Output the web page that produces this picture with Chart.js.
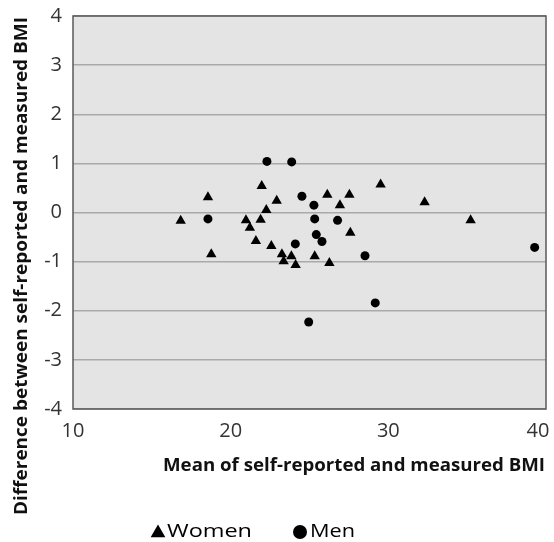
<!DOCTYPE html>
<html>
<head>
<meta charset="utf-8">
<script src="https://cdn.jsdelivr.net/npm/chart.js@4"></script>
<style>
  html, body { margin: 0; padding: 0; background: #fff; }
</style>
</head>
<body>
<canvas id="chart" width="554" height="542"></canvas>
<script>
const womenX = [18.56, 21.97, 22.92, 22.26, 16.83, 20.97, 21.90, 21.22, 21.60, 22.58, 18.77, 23.25,
                23.36, 29.51, 26.13, 27.53, 26.93, 27.59, 23.85, 24.12, 25.33, 26.26, 32.30, 35.22];
const womenY = [0.31, 0.54, 0.24, 0.05, -0.17, -0.16, -0.15, -0.31, -0.58, -0.68, -0.85, -0.85,
                -0.99, 0.57, 0.36, 0.36, 0.15, -0.41, -0.89, -1.07, -0.89, -1.03, 0.21, -0.16];
const menX = [22.30, 23.87, 18.56, 24.52, 25.28, 25.33, 26.78, 25.43, 25.79, 24.10, 28.52, 29.17, 24.95, 39.28];
const menY = [1.04, 1.03, -0.13, 0.33, 0.15, -0.13, -0.16, -0.45, -0.59, -0.64, -0.88, -1.84, -2.23, -0.71];

const xTicks = [10, 20, 30, 40];
const yTicks = [-4, -3, -2, -1, 0, 1, 2, 3, 4];
const seriesNames = ['Women', 'Men'];
const xTitle = 'Mean of self-reported and measured BMI';
const yTitle = 'Difference between self-reported and measured BMI';

const FONT = '"Open Sans", Lato, sans-serif';

const toPoints = (xs, ys) => xs.map((x, i) => ({ x: x, y: ys[i] }));

function triangle(ctx, x, y, r) {
  ctx.beginPath();
  let rad = 0;
  for (let i = 0; i < 3; i++) {
    const px = x + Math.sin(rad) * r, py = y - Math.cos(rad) * r;
    if (i === 0) ctx.moveTo(px, py); else ctx.lineTo(px, py);
    rad += 2 * Math.PI / 3;
  }
  ctx.closePath();
  ctx.fill();
}

// texte étiré horizontalement pour tenir dans une largeur donnée
function fitText(ctx, txt, x, y, width) {
  const w = ctx.measureText(txt).width;
  ctx.save();
  ctx.translate(x, y);
  ctx.scale(width / w, 1);
  ctx.fillText(txt, 0, 0);
  ctx.restore();
}

// Fond gris, cadre, titres des axes et légende
const decor = {
  id: 'decor',
  beforeDraw(chart) {
    const { ctx, chartArea: a } = chart;
    // dernier libellé de l'axe x décalé pour rester dans le canvas
    const items = chart.scales.x.getLabelItems();
    if (items.length) items[items.length - 1].options.translation[0] -= 8;

    ctx.save();
    ctx.fillStyle = '#ffffff';
    ctx.fillRect(0, 0, chart.width, chart.height);
    ctx.fillStyle = '#e4e4e4';
    ctx.fillRect(a.left, a.top, a.right - a.left, a.bottom - a.top);
    ctx.restore();
  },
  beforeDatasetsDraw(chart) {
    const { ctx, chartArea: a } = chart;
    ctx.save();
    ctx.strokeStyle = '#5a5a5a';
    ctx.lineWidth = 1.5;
    ctx.strokeRect(a.left, a.top, a.right - a.left, a.bottom - a.top);
    ctx.restore();
  },
  afterDraw(chart) {
    const ctx = chart.ctx;
    ctx.save();
    ctx.fillStyle = '#111';
    ctx.font = 'bold 18px ' + FONT;
    ctx.textAlign = 'center';
    ctx.textBaseline = 'middle';
    fitText(ctx, xTitle, 354, 466, 382);

    ctx.translate(22, 266);
    ctx.rotate(-Math.PI / 2);
    fitText(ctx, yTitle, 0, 0, 498);
    ctx.setTransform(1, 0, 0, 1, 0, 0);

    // Légende
    ctx.font = '19px ' + FONT;
    ctx.textAlign = 'left';
    ctx.fillStyle = '#000';
    triangle(ctx, 158, 533, 8.5);
    fitText(ctx, seriesNames[0], 167, 532, 85);
    ctx.beginPath();
    ctx.arc(300, 532, 7, 0, 2 * Math.PI);
    ctx.fill();
    fitText(ctx, seriesNames[1], 310, 532, 45);
    ctx.restore();
  }
};

new Chart(document.getElementById('chart'), {
  type: 'scatter',
  data: {
    datasets: [
      {
        label: seriesNames[0],
        data: toPoints(womenX, womenY),
        pointStyle: 'triangle',
        pointRadius: 6,
        pointHoverRadius: 6,
        backgroundColor: '#000',
        borderWidth: 0
      },
      {
        label: seriesNames[1],
        data: toPoints(menX, menY),
        pointStyle: 'circle',
        pointRadius: 4.5,
        pointHoverRadius: 4.5,
        backgroundColor: '#000',
        borderWidth: 0
      }
    ]
  },
  options: {
    responsive: false,
    animation: false,
    devicePixelRatio: 1,
    layout: { padding: { top: 16, right: 8, left: 0, bottom: 0 } },
    plugins: {
      legend: { display: false },
      tooltip: { enabled: false }
    },
    scales: {
      x: {
        type: 'linear',
        min: xTicks[0],
        max: xTicks[xTicks.length - 1],
        afterBuildTicks: s => { s.ticks = xTicks.map(v => ({ value: v })); },
        afterFit: s => { s.height = 133; s.paddingRight = 0; s.paddingLeft = 0; },
        grid: { display: false, drawTicks: false },
        border: { display: false },
        ticks: { padding: 10, color: '#333', font: { family: FONT, size: 20 } }
      },
      y: {
        min: yTicks[0],
        max: yTicks[yTicks.length - 1],
        afterBuildTicks: s => { s.ticks = yTicks.map(v => ({ value: v })); },
        afterFit: s => { s.width = 73; s.paddingTop = 0; s.paddingBottom = 0; },
        grid: { color: '#a9a9a9', lineWidth: 1.5, drawTicks: false },
        border: { display: false },
        ticks: { padding: 11, color: '#333', font: { family: FONT, size: 20 } }
      }
    }
  },
  plugins: [decor]
});
</script>
</body>
</html>
